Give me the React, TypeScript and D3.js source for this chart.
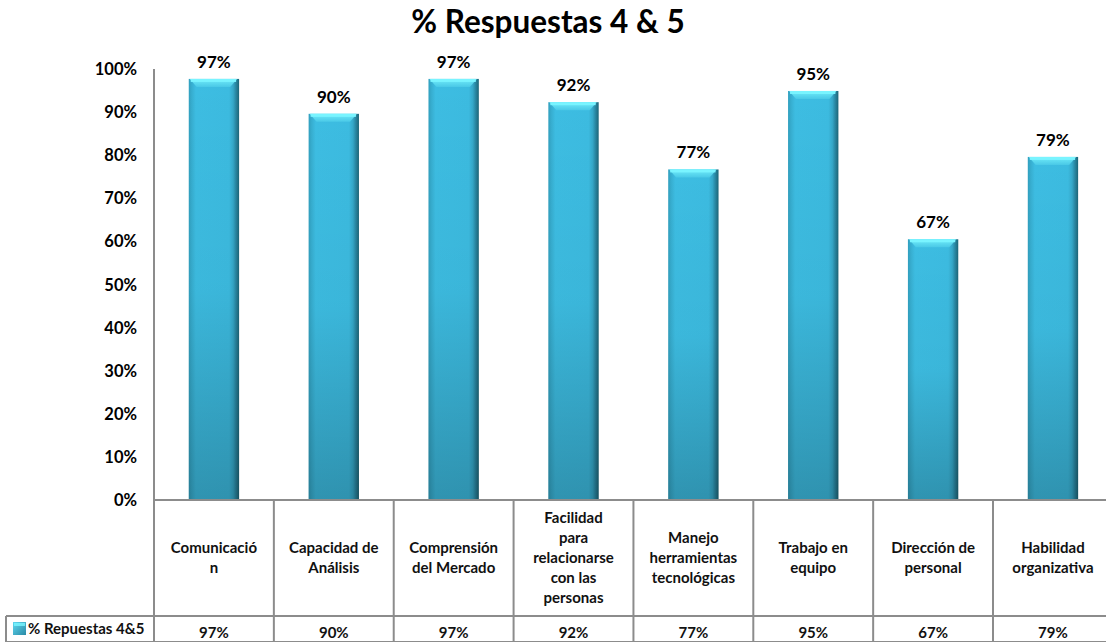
import React from 'react';
import * as d3 from 'd3';

const categories: string[][] = [
  ['Comunicació', 'n'],
  ['Capacidad de', 'Análisis'],
  ['Comprensión', 'del Mercado'],
  ['Facilidad', 'para', 'relacionarse', 'con las', 'personas'],
  ['Manejo', 'herramientas', 'tecnológicas'],
  ['Trabajo en', 'equipo'],
  ['Dirección de', 'personal'],
  ['Habilidad', 'organizativa'],
];
// bar heights (%)
const barValues: number[] = [97.7, 89.6, 97.7, 92.3, 76.7, 94.9, 60.5, 79.6];
// printed data labels (%)
const labelValues: number[] = [97, 90, 97, 92, 77, 95, 67, 79];
const yTicks: number[] = [0, 10, 20, 30, 40, 50, 60, 70, 80, 90, 100];
const seriesName = '% Repuestas 4&5';
const title = '% Respuestas 4 & 5';

const W = 1106;
const H = 642;
const left = 154;
const colW = 119.86;
const plotTop = 69;
const plotBottom = 500;
const tableMid = 616;
const FONT = 'Lato, "Open Sans", sans-serif';
const grid = '#8c8c8c';

export default function App() {
  const keys = categories.map((c) => c.join(' '));
  const x = d3.scaleBand<string>().domain(keys).range([left, left + colW * keys.length]).padding(0);
  const y = d3.scaleLinear().domain([0, 100]).range([plotBottom, plotTop]);
  const bw = x.bandwidth() * 0.42;
  const fmt = (v: number) => `${v}%`;

  return (
    <svg width={W} height={H} style={{ position: 'absolute', left: 0, top: 0, background: '#fff' }} fontFamily={FONT}>
      <defs>
        <linearGradient id="barH" x1="0" x2="1" y1="0" y2="0">
          <stop offset="0" stopColor="#319fbe" />
          <stop offset="0.06" stopColor="#37aed0" />
          <stop offset="0.14" stopColor="#3dbde2" />
          <stop offset="0.8" stopColor="#3cbbe0" />
          <stop offset="0.88" stopColor="#35a8c9" />
          <stop offset="0.93" stopColor="#2a8aa6" />
          <stop offset="1" stopColor="#1d6577" />
        </linearGradient>
        <linearGradient id="barV" x1="0" x2="0" y1="0" y2="1">
          <stop offset="0" stopColor="#000" stopOpacity="0" />
          <stop offset="0.5" stopColor="#000" stopOpacity="0.03" />
          <stop offset="1" stopColor="#000" stopOpacity="0.22" />
        </linearGradient>
        <linearGradient id="cap" x1="0" x2="0" y1="0" y2="1">
          <stop offset="0" stopColor="#7af6ff" />
          <stop offset="1" stopColor="#4ccbe8" />
        </linearGradient>
        <linearGradient id="icon" x1="0" x2="1" y1="0" y2="1">
          <stop offset="0" stopColor="#5fd8f0" />
          <stop offset="1" stopColor="#2a8aa6" />
        </linearGradient>
      </defs>

      <text x={548} y={33} textAnchor="middle" fontSize={31.5} fontWeight={700} fill="#000">
        {title}
      </text>

      {yTicks.map((t) => (
        <text key={t} x={137} y={y(t) + 6} textAnchor="end" fontSize={16.5} fontWeight={700} fill="#000">
          {`${t}%`}
        </text>
      ))}

      {keys.map((k, i) => {
        const cx = (x(k) as number) + x.bandwidth() / 2;
        const x0 = cx - bw / 2;
        const y0 = y(barValues[i]);
        const h = plotBottom - y0;
        return (
          <g key={k}>
            <rect x={x0} y={y0} width={bw} height={h} fill="url(#barH)" />
            <rect x={x0} y={y0} width={bw} height={h} fill="url(#barV)" />
            <path
              d={`M${x0 + 1},${y0} L${x0 + bw - 2},${y0} L${x0 + bw - 9},${y0 + 8} L${x0 + 8},${y0 + 8} Z`}
              fill="url(#cap)"
              opacity={0.85}
            />
            <rect x={x0 + 2} y={y0} width={bw - 5} height={3} fill="#79f4ff" />
            <text x={cx} y={y0 - 11} textAnchor="middle" fontSize={17} fontWeight={700} fill="#000">
              {fmt(labelValues[i])}
            </text>
          </g>
        );
      })}

      {/* axis and data table */}
      <line x1={left} x2={left} y1={plotTop} y2={H} stroke={grid} strokeWidth={2} />
      <line x1={left} x2={W} y1={plotBottom} y2={plotBottom} stroke={grid} strokeWidth={2} />
      <line x1={6} x2={W} y1={tableMid} y2={tableMid} stroke={grid} strokeWidth={2} />
      <line x1={6} x2={6} y1={tableMid} y2={H} stroke={grid} strokeWidth={2} />
      <line x1={6} x2={W} y1={H - 0.5} y2={H - 0.5} stroke={grid} strokeWidth={1} />
      {keys.map((k) => (
        <line key={k} x1={(x(k) as number) + x.bandwidth()} x2={(x(k) as number) + x.bandwidth()} y1={plotBottom} y2={H} stroke={grid} strokeWidth={2} />
      ))}

      {categories.map((lines, i) => {
        const cx = (x(keys[i]) as number) + x.bandwidth() / 2;
        const lh = 20;
        const startY = 558 - ((lines.length - 1) * lh) / 2 + 5;
        return (
          <text key={keys[i]} textAnchor="middle" fontSize={15} fontWeight={700} fill="#111">
            {lines.map((l, j) => (
              <tspan key={j} x={cx} y={startY + j * lh}>
                {l}
              </tspan>
            ))}
          </text>
        );
      })}

      {labelValues.map((v, i) => {
        const cx = (x(keys[i]) as number) + x.bandwidth() / 2;
        return (
          <text key={keys[i]} x={cx} y={638} textAnchor="middle" fontSize={15} fontWeight={700} fill="#111">
            {fmt(v)}
          </text>
        );
      })}

      <rect x={13} y={622} width={13} height={13} fill="url(#icon)" />
      <rect x={14} y={623} width={11} height={3} fill="#7af6ff" opacity={0.8} />
      <text x={28} y={634} fontSize={15} fontWeight={700} fill="#111">
        {seriesName}
      </text>
    </svg>
  );
}
